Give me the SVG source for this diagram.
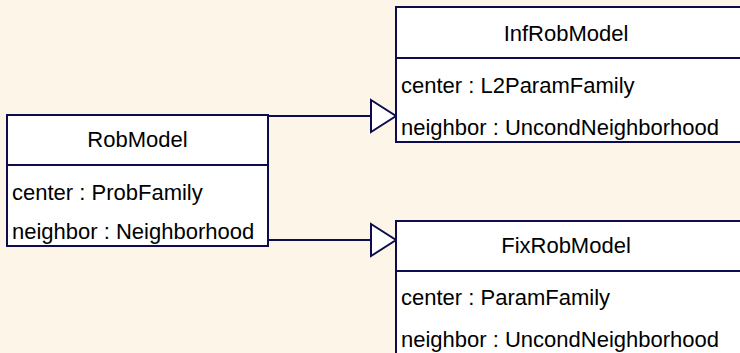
<svg xmlns="http://www.w3.org/2000/svg" width="740" height="353" viewBox="0 0 740 353">
<defs>
<style>
.box{fill:#ffffff;stroke:#0d0d4d;stroke-width:2}
.ln{stroke:#0d0d4d;stroke-width:2;fill:none}
.head{fill:#ffffff;stroke:#0d0d4d;stroke-width:2}
text{font-family:"Liberation Sans",Arial,sans-serif;font-size:22px;fill:#000}
.t{text-anchor:middle}
</style>
</defs>
<rect width="740" height="353" fill="#fdf5e8"/>
<g id="connectors">
<path class="ln" d="M269,116 H371"/>
<polygon class="head" points="371,100 396,116 371,132"/>
<path class="ln" d="M269,240 H371"/>
<polygon class="head" points="371,224 396,240 371,256"/>
</g>
<g id="RobModel">
<rect class="box" x="7" y="115" width="261" height="131"/>
<path class="ln" d="M7,165 H268"/>
<text class="t" x="137.5" y="147">RobModel</text>
<text x="12" y="200">center : ProbFamily</text>
<text x="12" y="239">neighbor : Neighborhood</text>
</g>
<g id="InfRobModel">
<rect class="box" x="396" y="7" width="400" height="135"/>
<path class="ln" d="M396,58 H796"/>
<text class="t" x="566" y="41">InfRobModel</text>
<text x="401" y="93">center : L2ParamFamily</text>
<text x="401" y="135">neighbor : UncondNeighborhood</text>
</g>
<g id="FixRobModel">
<rect class="box" x="396" y="221" width="400" height="160"/>
<path class="ln" d="M396,271 H796"/>
<text class="t" x="566" y="253">FixRobModel</text>
<text x="401" y="305">center : ParamFamily</text>
<text x="401" y="347">neighbor : UncondNeighborhood</text>
</g>
</svg>
